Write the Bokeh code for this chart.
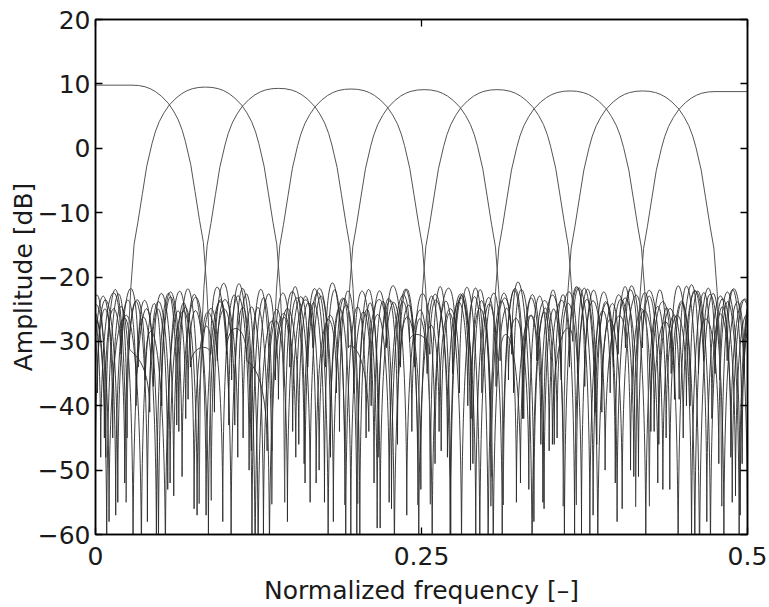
import numpy as np
from bokeh.plotting import figure
from bokeh.models import ColumnDataSource, LinearAxis, FixedTicker, Range1d, CustomJSTickFormatter
from bokeh.embed import file_html
from bokeh.resources import INLINE

# ---------------- data ----------------
X_TICKS = [0, 0.25, 0.5]
X_TICK_LABELS = ["0", "0.25", "0.5"]
Y_TICKS = [-60, -50, -40, -30, -20, -10, 0, 10, 20]
Y_TICK_LABELS = ["−60", "−50", "−40", "−30", "−20", "−10", "0", "10", "20"]
X_LABEL = "Normalized frequency [–]"
Y_LABEL = "Amplitude [dB]"

# passband centres (ch0 flat from 0, ch8 flat to 0.5) and peak levels [dB]
CENTERS = [0.028, 0.0843, 0.1403, 0.196, 0.252, 0.308, 0.364, 0.4195, 0.475]
PEAKS = [9.8, 9.5, 9.3, 9.2, 9.1, 9.1, 8.9, 8.9, 8.8]

# main-lobe profile: offset from centre [-] and level [dB]
ML_OFFSET = [0, 0.005, 0.010, 0.014, 0.018, 0.0225, 0.0278, 0.0318, 0.0355, 0.0385,
             0.041, 0.045, 0.0483, 0.0518, 0.0547, 0.0572, 0.0588, 0.0600, 0.0608]
ML_DB = [9.5, 9.45, 9.25, 8.95, 8.5, 7.8, 6.7, 5.5, 4.1, 2.5,
         0.7, -2.8, -7.0, -11.5, -14.9, -21.6, -28, -38, -55]

SIDELOBE_WIDTH = 0.0156

# side lobes, listed outward from the main lobe: peak level and outer null depth [dB]
SL_PEAK_R = [
    [-21.5, -22, -23.5, -22.5, -24, -23, -25, -22.5, -24, -26, -23, -22.5, -25, -24, -23, -27, -24, -22.5, -23, -26, -24, -23, -25, -22.5, -24, -23, -26],
    [-21.5, -23, -22, -25, -24, -22.5, -26, -23, -24, -22.5, -25, -27, -23, -24, -22.5, -26, -23, -25, -24, -22.5, -23, -26, -24, -23],
    [-22, -24, -23, -28, -25, -22.5, -24, -30, -26, -23, -25, -22.5, -27, -24, -23, -26, -22.5, -24, -25, -23],
    [-21.5, -23, -25, -24, -22.5, -26, -29, -23, -25, -24, -22.5, -27, -25, -23, -24, -26],
    [-22, -23, -25, -22.5, -24, -27, -23, -25, -26, -22.5, -24, -23, -25],
    [-22, -24, -23, -26, -25, -22.5, -27, -24, -23],
    [-22, -24, -23, -25, -24, -26],
    [-22, -24],
    [],
]
SL_NULL_R = [
    [-36, -63, -47, -44, -31, -58, -38, -52, -67, -34, -49, -30, -61, -37, -55, -33, -45, -35, -66, -32, -51, -46, -39, -70, -36, -57, -42],
    [-52, -34, -62, -45, -31, -57, -35, -48, -40, -66, -36, -53, -47, -34, -60, -38, -50, -44, -35, -64, -42, -55, -36, -49],
    [-48, -35, -63, -44, -38, -65, -33, -52, -46, -36, -60, -41, -56, -31, -53, -45, -33, -62, -35, -49],
    [-60, -42, -51, -32, -68, -46, -30, -57, -34, -51, -44, -39, -66, -35, -54, -47],
    [-42, -56, -63, -37, -50, -31, -64, -45, -40, -58, -33, -61, -44],
    [-46, -58, -33, -52, -67, -35, -49, -62, -41],
    [-53, -40, -66, -48, -33, -57],
    [-49, -61],
    [],
]
SL_PEAK_L = [
    [],
    [-22, -23],
    [-22, -23.5, -25, -22.5, -24, -26],
    [-22, -25, -23, -31, -26, -24, -33, -28, -25],
    [-22, -24, -22.5, -26, -25, -23, -27, -24, -22.5, -25, -28, -23, -24],
    [-22, -23.5, -25, -24, -27, -23, -26, -24, -22.5, -25, -28, -24, -23, -26, -25, -23],
    [-22, -23, -25, -29, -24, -26, -32, -25, -23, -24, -27, -35, -28, -25, -23, -26, -30, -24, -25, -27],
    [-22, -23.5, -22.5, -25, -24, -26, -23, -27, -25, -24, -22.5, -26, -24, -25, -28, -23, -24, -26, -25, -23, -27, -24, -25, -23],
    [-21.5, -22.5, -24, -23, -25, -22.5, -26, -24, -23, -25, -27, -24, -22.5, -26, -25, -23, -24, -28, -25, -23, -24, -26, -22.5, -25, -24, -23, -26],
]
SL_NULL_L = [
    [],
    [-48, -62],
    [-44, -64, -34, -55, -38, -61],
    [-47, -63, -32, -34, -52, -41, -31, -58, -37],
    [-55, -49, -37, -62, -45, -58, -31, -51, -40, -66, -32, -48, -60],
    [-46, -59, -60, -38, -52, -48, -36, -69, -43, -41, -56, -54, -37, -64, -45, -50],
    [-50, -61, -32, -30, -55, -44, -31, -63, -34, -58, -47, -33, -32, -57, -42, -66, -36, -52, -45, -60],
    [-55, -42, -62, -38, -65, -47, -53, -34, -59, -61, -44, -50, -46, -39, -67, -48, -33, -57, -43, -63, -40, -57, -51, -45],
    [-52, -41, -61, -46, -58, -38, -67, -49, -35, -64, -44, -56, -40, -60, -48, -55, -34, -66, -50, -43, -62, -39, -53, -58, -45, -63, -42],
]

# ---------------- build glyph sources ----------------
n_ch = len(CENTERS)
half_w = ML_OFFSET[-1]
off = np.array(ML_OFFSET)
prof = np.array(ML_DB)

ml_xs, ml_ys = [], []
for k in range(n_ch):
    c, shift = CENTERS[k], PEAKS[k] - ML_DB[0]
    if k == 0:
        xs = np.concatenate([[0.0], c + off])
        ys = np.concatenate([[PEAKS[k]], prof + shift])
    elif k == n_ch - 1:
        xs = np.concatenate([c - off[::-1], [0.5]])
        ys = np.concatenate([prof[::-1] + shift, [PEAKS[k]]])
    else:
        xs = np.concatenate([c - off[::-1], c + off[1:]])
        ys = np.concatenate([prof[::-1], prof[1:]]) + shift
    ml_xs.append(list(xs))
    ml_ys.append(list(ys))

b = dict(x0=[], y0=[], x1=[], y1=[], cx0=[], cy0=[], cx1=[], cy1=[])


def add_lobe(xa, ya, xb, yb, peak):
    c = (peak - (ya + yb) / 8.0) / 0.75
    b["x0"].append(xa); b["y0"].append(ya)
    b["x1"].append(xb); b["y1"].append(yb)
    b["cx0"].append(xa); b["cy0"].append(c)
    b["cx1"].append(xb); b["cy1"].append(c)


for k in range(n_ch):
    c, shift = CENTERS[k], PEAKS[k] - ML_DB[0]
    edge_null = ML_DB[-1] + shift
    # right side
    x_in, y_in = c + half_w, edge_null
    for pk, nl in zip(SL_PEAK_R[k], SL_NULL_R[k]):
        x_out = x_in + SIDELOBE_WIDTH
        add_lobe(x_in, y_in, x_out, nl, pk)
        x_in, y_in = x_out, nl
    # left side
    x_in, y_in = c - half_w, edge_null
    for pk, nl in zip(SL_PEAK_L[k], SL_NULL_L[k]):
        x_out = x_in - SIDELOBE_WIDTH
        add_lobe(x_out, nl, x_in, y_in, pk)
        x_in, y_in = x_out, nl

# ---------------- figure ----------------
FONT = "DejaVu Sans"
p = figure(width=769, height=607, output_backend="svg", toolbar_location=None,
           x_range=Range1d(0, 0.5), y_range=Range1d(-60, 20),
           min_border_left=95, min_border_right=22, min_border_top=19, min_border_bottom=72)
p.xgrid.visible = False
p.ygrid.visible = False
p.background_fill_color = "white"
p.border_fill_color = "white"
p.outline_line_color = "black"
p.outline_line_width = 1.5

p.bezier(x0="x0", y0="y0", x1="x1", y1="y1", cx0="cx0", cy0="cy0", cx1="cx1", cy1="cy1",
         source=ColumnDataSource(b), line_color="#2a2a2a", line_width=0.9)
p.multi_line(xs=ml_xs, ys=ml_ys, line_color="#555555", line_width=1.0)

fmt_code = """
for (let i = 0; i < tv.length; i++) {
  if (Math.abs(tv[i] - tick) < 1e-6) { return tl[i]; }
}
return "";
"""
bottom_ax = p.below[0]
left_ax = p.left[0]
bottom_ax.ticker = FixedTicker(ticks=X_TICKS)
bottom_ax.formatter = CustomJSTickFormatter(args=dict(tv=X_TICKS, tl=X_TICK_LABELS), code=fmt_code)
left_ax.ticker = FixedTicker(ticks=Y_TICKS)
left_ax.formatter = CustomJSTickFormatter(args=dict(tv=Y_TICKS, tl=Y_TICK_LABELS), code=fmt_code)
bottom_ax.axis_label = X_LABEL
left_ax.axis_label = Y_LABEL

top_ax = LinearAxis(ticker=FixedTicker(ticks=X_TICKS), formatter=CustomJSTickFormatter(code='return "";'))
right_ax = LinearAxis(ticker=FixedTicker(ticks=Y_TICKS), formatter=CustomJSTickFormatter(code='return "";'))
p.add_layout(top_ax, "above")
p.add_layout(right_ax, "right")

for ax in [bottom_ax, left_ax, top_ax, right_ax]:
    ax.axis_line_color = "black"
    ax.axis_line_width = 1.5
    ax.major_tick_in = 7
    ax.major_tick_out = 0
    ax.major_tick_line_color = "black"
    ax.major_tick_line_width = 1.3
    ax.minor_tick_line_color = None
    ax.major_label_text_font = FONT
    ax.major_label_text_font_size = "25px"
    ax.major_label_text_color = "#1a1a1a"
    ax.axis_label_text_font = FONT
    ax.axis_label_text_font_size = "25px"
    ax.axis_label_text_font_style = "normal"
    ax.axis_label_text_color = "#1a1a1a"

bottom_ax.major_label_standoff = 12
bottom_ax.axis_label_standoff = 8
left_ax.major_label_standoff = 5
left_ax.axis_label_standoff = -3
top_ax.major_label_text_font_size = "0px"
right_ax.major_label_text_font_size = "0px"

open("out.html", "w").write(file_html(p, INLINE))
